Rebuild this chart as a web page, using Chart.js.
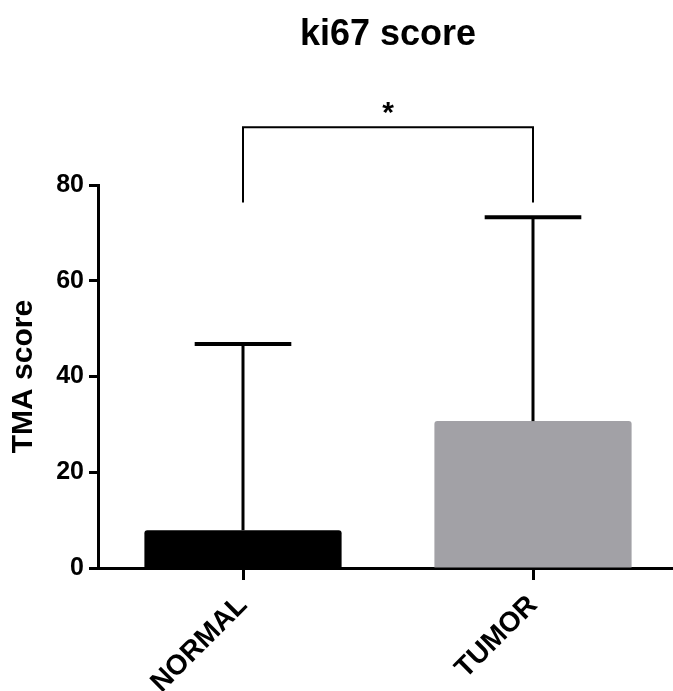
<!DOCTYPE html>
<html lang="en">
<head>
    <meta charset="UTF-8">
    <title>ki67 score</title>
    <script src="https://cdn.jsdelivr.net/npm/chart.js"></script>
    <style>
        body {
            margin: 0;
            padding: 0;
            background: white;
            overflow: hidden;
        }
        #wrap {
            width: 680px;
            height: 691px;
        }
    </style>
</head>
<body>
    <div id="wrap">
        <canvas id="chart" width="680" height="691"></canvas>
    </div>

    <script>
        // values
        const groups = ['NORMAL', 'TUMOR'];
        const means = [7.9, 30.7];
        const upperErr = [46.8, 73.3];
        const barColors = ['#000000', '#a2a1a6'];
        const yTicks = [0, 20, 40, 60, 80];

        // significance bracket between the two groups
        const sigPair = [0, 1];
        const sigTop = 92.1;
        const sigLegEnd = 76.4;
        const sigText = '*';

        const FONT = '"Liberation Sans", Arial, Helvetica, sans-serif';
        Chart.defaults.font.family = FONT;
        Chart.defaults.color = '#000';

        // whiskers (upper only) drawn on top of the bars
        const errorBars = {
            id: 'errorBars',
            afterDatasetsDraw(chart) {
                const ctx = chart.ctx;
                const y = chart.scales.y;
                chart.getDatasetMeta(0).data.forEach((bar, i) => {
                    const top = y.getPixelForValue(upperErr[i]);
                    const half = bar.width * 0.245;
                    ctx.save();
                    ctx.strokeStyle = '#000';
                    ctx.lineWidth = 3;
                    ctx.beginPath();
                    ctx.moveTo(bar.x, bar.y);
                    ctx.lineTo(bar.x, top);
                    ctx.stroke();
                    ctx.lineWidth = 4;
                    ctx.beginPath();
                    ctx.moveTo(bar.x - half, top);
                    ctx.lineTo(bar.x + half, top);
                    ctx.stroke();
                    ctx.restore();
                });
            }
        };

        const sigBracket = {
            id: 'sigBracket',
            afterDraw(chart) {
                const ctx = chart.ctx;
                const x = chart.scales.x, y = chart.scales.y;
                const x1 = x.getPixelForValue(sigPair[0]);
                const x2 = x.getPixelForValue(sigPair[1]);
                const yt = y.getPixelForValue(sigTop);
                const yb = y.getPixelForValue(sigLegEnd);
                ctx.save();
                ctx.strokeStyle = '#000';
                ctx.lineWidth = 2;
                ctx.beginPath();
                ctx.moveTo(x1, yb);
                ctx.lineTo(x1, yt);
                ctx.lineTo(x2, yt);
                ctx.lineTo(x2, yb);
                ctx.stroke();
                ctx.fillStyle = '#000';
                ctx.font = 'bold 30px ' + FONT;
                ctx.textAlign = 'center';
                ctx.textBaseline = 'alphabetic';
                ctx.fillText(sigText, (x1 + x2) / 2, yt - 5);
                ctx.restore();
            }
        };

        new Chart(document.getElementById('chart'), {
            type: 'bar',
            data: {
                labels: groups,
                datasets: [{
                    data: means,
                    backgroundColor: barColors,
                    borderWidth: 0,
                    borderRadius: 3,
                    borderSkipped: 'bottom',
                    barPercentage: 0.68,
                    categoryPercentage: 1
                }]
            },
            options: {
                responsive: false,
                animation: false,
                devicePixelRatio: 1,
                layout: {
                    padding: { top: 0, right: 2, left: 0, bottom: 0 }
                },
                plugins: {
                    legend: { display: false },
                    tooltip: { enabled: false },
                    title: {
                        display: true,
                        text: 'ki67 score',
                        fullSize: false,
                        color: '#000',
                        font: { size: 36, weight: 'bold' },
                        padding: { top: 13, bottom: 129 }
                    }
                },
                scales: {
                    x: {
                        type: 'category',
                        offset: true,
                        afterFit: s => { s.height = 123; },
                        grid: {
                            offset: false,
                            drawOnChartArea: false,
                            tickLength: 12,
                            tickWidth: 3,
                            tickColor: '#000'
                        },
                        border: { color: '#000', width: 3 },
                        ticks: {
                            minRotation: 45,
                            maxRotation: 45,
                            padding: 9,
                            color: '#000',
                            font: { size: 28, weight: 'bold' }
                        }
                    },
                    y: {
                        min: 0,
                        max: 80,
                        afterFit: s => { s.width = 98; },
                        afterBuildTicks: s => { s.ticks = yTicks.map(v => ({ value: v })); },
                        grid: {
                            drawOnChartArea: false,
                            tickLength: 9,
                            tickWidth: 3,
                            tickColor: '#000'
                        },
                        border: { color: '#000', width: 3 },
                        ticks: {
                            padding: 5,
                            color: '#000',
                            font: { size: 25, weight: 'bold' }
                        },
                        title: {
                            display: true,
                            text: 'TMA score',
                            color: '#000',
                            font: { size: 30, weight: 'bold' },
                            padding: { top: 6, bottom: 0 }
                        }
                    }
                }
            },
            plugins: [errorBars, sigBracket]
        });
    </script>
</body>
</html>
